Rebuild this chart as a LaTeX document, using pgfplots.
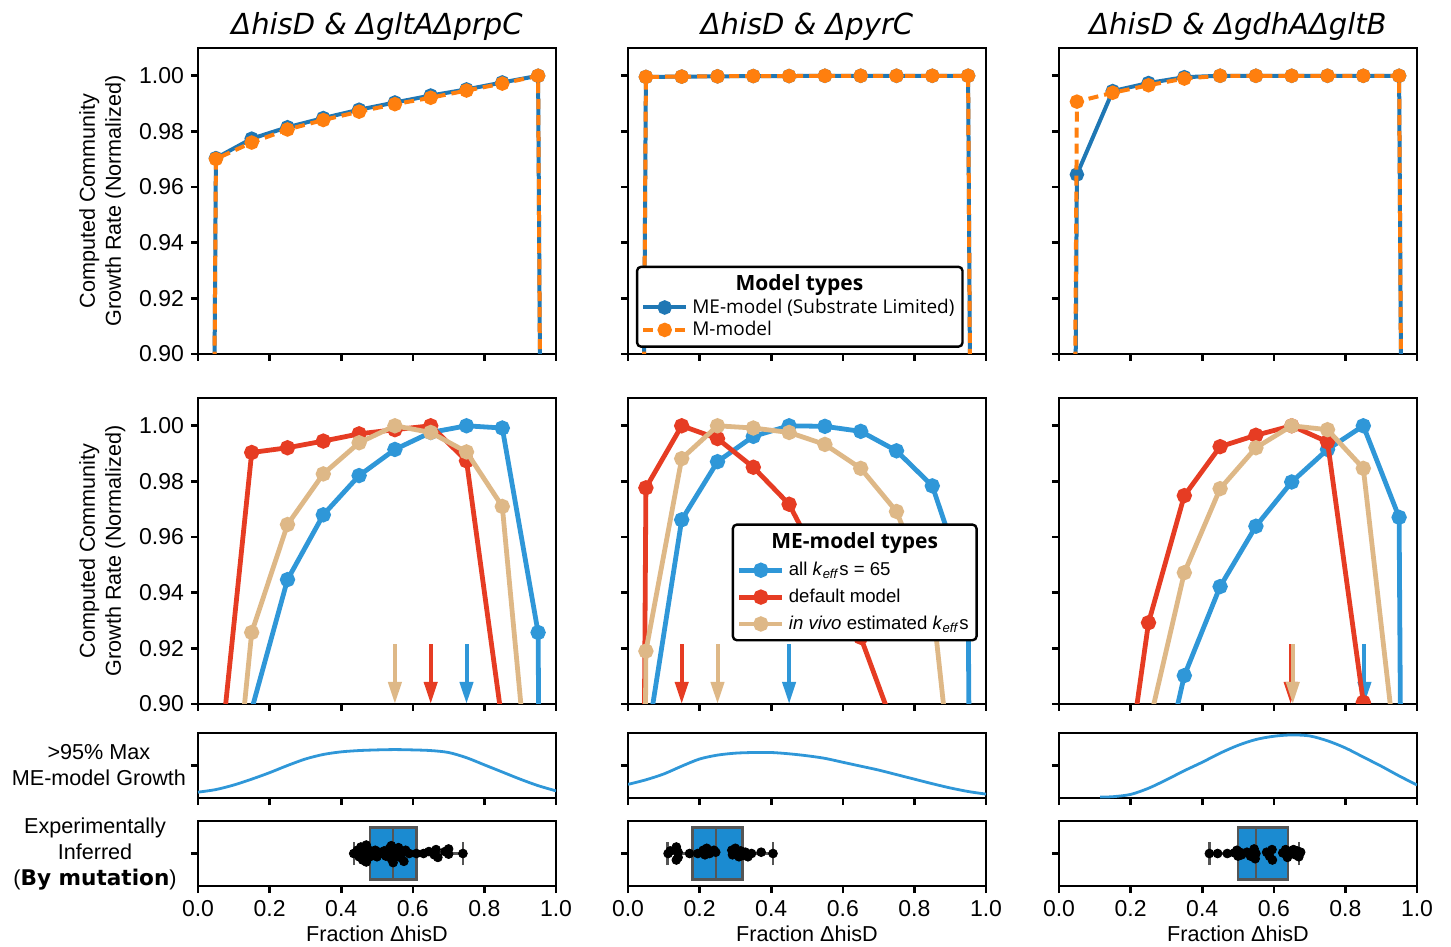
\documentclass[border=0pt]{standalone}
\usepackage{fontspec}
\setmainfont{Liberation Sans}
\newfontfamily\titlefont{DejaVu Sans}
\newfontfamily\legfont{Open Sans}
\usepackage{pgfplots}
\pgfplotsset{compat=1.18}
\usepgfplotslibrary{statistics}
\usetikzlibrary{arrows.meta}

\definecolor{topblue}{HTML}{1F77B4}
\definecolor{toporange}{HTML}{FF7F0E}
\definecolor{meblue}{HTML}{2F97D8}
\definecolor{mered}{HTML}{E63C23}
\definecolor{metan}{HTML}{DEB887}
\definecolor{boxblue}{HTML}{1B8BD1}
\definecolor{boxgray}{HTML}{555555}

\pgfplotsset{
  base/.style={scale only axis, width=179pt, xmin=0, xmax=1,
    axis line style={line width=1.4pt},
    major tick style={line width=1.3pt, black},
    major tick length=3.5pt, tick align=outside,
    xtick pos=bottom, ytick pos=left,
    xtick={0,0.2,0.4,0.6,0.8,1}, xticklabels={},
    clip marker paths=true,
    /pgf/number format/assume math mode=true,
    tick label style={font=\fontsize{11.5}{13}\selectfont},
    label style={font=\fontsize{10.8}{13}\selectfont, align=center},
    title style={font=\titlefont\itshape\fontsize{14.5}{16}\selectfont, yshift=-6pt},
    legend image code/.code={\draw[mark repeat=2,mark phase=2,##1] plot coordinates {(0cm,0cm) (0.38cm,0cm) (0.76cm,0cm)};}},
  grow/.style={base, height=153pt, ymin=0.9, ymax=1.01,
    ytick={0.9,0.92,0.94,0.96,0.98,1},
    yticklabel style={/pgf/number format/.cd, fixed, fixed zerofill, precision=2}},
  growlab/.style={grow, ylabel={Computed Community\\Growth Rate (Normalized)}},
  nolab/.style={yticklabels={}},
  dens/.style={base, height=32.5pt, ymin=0, ymax=1, ytick={0.5}, yticklabels={}},
  swarm/.style={base, height=32.5pt, ymin=-0.5, ymax=0.5, ytick={0}, yticklabels={},
    boxplot/draw direction=x,
    xticklabels={0.0,0.2,0.4,0.6,0.8,1.0}, xlabel={Fraction ΔhisD},
    xlabel style={yshift=2pt}},
  me/.style={topblue, line width=2pt, mark=*, mark size=2.6pt},
  mm/.style={toporange, line width=2pt, dash pattern=on 5pt off 3pt, mark=*, mark size=2.6pt, mark options={solid}},
  kb/.style={meblue, line width=2.4pt, mark=*, mark size=2.6pt},
  kr/.style={mered, line width=2.4pt, mark=*, mark size=2.6pt},
  kt/.style={metan, line width=2.4pt, mark=*, mark size=2.6pt},
  kde/.style={meblue, line width=1.4pt, smooth},
  bx/.style={draw=boxgray, fill=boxblue, line width=1.2pt},
  dots/.style={only marks, mark=*, mark size=2.2pt, black},
}
\newcommand{\arr}[2]{\addplot[forget plot, #1, line width=2pt, -{Triangle[width=6.5pt,length=11pt]}] coordinates {(#2,0.9215) (#2,0.9)};}

\newlength\legA
\newlength\legB
\begin{document}%
\settowidth\legA{\legfont\fontsize{9.5}{11}\selectfont ME-model (Substrate Limited)}%
\settowidth\legB{\fontsize{9.3}{11}\selectfont \textit{in vivo} estimated \textit{k}\textsubscript{\textit{eff}}s}%
\begin{tikzpicture}

% ---- row 1: M vs ME model
\begin{axis}[growlab, at={(99pt,-24pt)}, anchor=north west, title={ΔhisD \& ΔgltAΔprpC}]
\addplot[me] coordinates {(0,0) (0.05,0.9704) (0.15,0.9774) (0.25,0.9815) (0.35,0.9848) (0.45,0.9878) (0.55,0.9904) (0.65,0.9929) (0.75,0.9951) (0.85,0.9976) (0.95,1.0) (1,0)};
\addplot[mm] coordinates {(0,0) (0.05,0.9701) (0.15,0.9760) (0.25,0.9807) (0.35,0.9841) (0.45,0.9871) (0.55,0.9898) (0.65,0.9921) (0.75,0.9947) (0.85,0.9972) (0.95,1.0) (1,0)};
\end{axis}

\begin{axis}[grow, nolab, at={(314pt,-24pt)}, anchor=north west, title={ΔhisD \& ΔpyrC},
  legend style={at={(0.022,0.02)}, anchor=south west, draw=black, line width=1.2pt, rounded corners=2pt,
    font=\legfont\fontsize{9.5}{11}\selectfont, row sep=-1.5pt, inner sep=2pt},
  legend cell align=left]
\addlegendimage{empty legend}
\addlegendentry{\makebox[\legA][c]{\hspace*{-24pt}\fontsize{10.5}{12}\selectfont\bfseries Model types}}
\addplot[me] coordinates {(0,0) (0.05,0.9996) (0.15,0.9997) (0.25,0.9998) (0.35,0.9999) (0.45,0.9999) (0.55,1.0) (0.65,1.0) (0.75,1.0) (0.85,1.0) (0.95,1.0) (1,0)};
\addlegendentry{ME-model (Substrate Limited)}
\addplot[mm] coordinates {(0,0) (0.05,0.9996) (0.15,0.9997) (0.25,0.9998) (0.35,0.9999) (0.45,0.9999) (0.55,1.0) (0.65,1.0) (0.75,1.0) (0.85,1.0) (0.95,1.0) (1,0)};
\addlegendentry{M-model}
\end{axis}

\begin{axis}[grow, nolab, at={(529.5pt,-24pt)}, anchor=north west, title={ΔhisD \& ΔgdhAΔgltB}]
\addplot[me] coordinates {(0,0) (0.05,0.9645) (0.15,0.9945) (0.25,0.9974) (0.35,0.9995) (0.45,1.0) (0.55,1.0) (0.65,1.0) (0.75,1.0) (0.85,1.0) (0.95,1.0) (1,0)};
\addplot[mm] coordinates {(0,0) (0.05,0.9907) (0.15,0.9939) (0.25,0.9966) (0.35,0.9990) (0.45,1.0) (0.55,1.0) (0.65,1.0) (0.75,1.0) (0.85,1.0) (0.95,1.0) (1,0)};
\end{axis}

% ---- row 2: ME-model types
\begin{axis}[growlab, at={(99pt,-199pt)}, anchor=north west]
\arr{metan}{0.55}
\arr{mered}{0.65}
\arr{meblue}{0.75}
\addplot[kb] coordinates {(0,0) (0.05,0.80) (0.15,0.898) (0.25,0.9447) (0.35,0.968) (0.45,0.9821) (0.55,0.9915) (0.65,0.9976) (0.75,1.0) (0.85,0.9992) (0.95,0.9257) (1,0)};
\addplot[kr] coordinates {(0,0) (0.05,0.866) (0.15,0.9904) (0.25,0.9921) (0.35,0.9945) (0.45,0.9971) (0.55,0.9986) (0.65,1.0) (0.75,0.9874) (0.85,0.893) (0.95,0.80) (1,0)};
\addplot[kt] coordinates {(0,0) (0.05,0.797) (0.15,0.9257) (0.25,0.9645) (0.35,0.9827) (0.45,0.9939) (0.55,1.0) (0.65,0.9976) (0.75,0.9906) (0.85,0.971) (0.95,0.834) (1,0)};
\end{axis}

\begin{axis}[grow, nolab, at={(314pt,-199pt)}, anchor=north west,
  legend style={at={(0.977,0.59)}, anchor=north east, draw=black, line width=1.2pt, rounded corners=2pt,
    font=\fontsize{9.3}{11}\selectfont, row sep=1.2pt, inner sep=2pt},
  legend cell align=left]
\arr{mered}{0.15}
\arr{metan}{0.25}
\arr{meblue}{0.45}
\addlegendimage{empty legend}
\addlegendentry{\makebox[\legB][c]{\hspace*{-24pt}\legfont\fontsize{10.5}{12}\selectfont\bfseries ME-model types}}
\addplot[kb] coordinates {(0,0) (0.05,0.884) (0.15,0.9662) (0.25,0.9871) (0.35,0.9962) (0.45,1.0) (0.55,0.9998) (0.65,0.998) (0.75,0.991) (0.85,0.9784) (0.95,0.94) (1,0)};
\addlegendentry{all \textit{k}\textsubscript{\textit{eff}}s = 65}
\addplot[kr] coordinates {(0,0) (0.05,0.9777) (0.15,1.0) (0.25,0.9954) (0.35,0.9851) (0.45,0.9718) (0.55,0.947) (0.65,0.924) (0.75,0.889) (0.85,0.85) (0.95,0.80) (1,0)};
\addlegendentry{default model}
\addplot[kt] coordinates {(0,0) (0.05,0.919) (0.15,0.9882) (0.25,1.0) (0.35,0.9992) (0.45,0.9976) (0.55,0.9933) (0.65,0.9847) (0.75,0.9692) (0.85,0.937) (0.95,0.818) (1,0)};
\addlegendentry{\textit{in vivo} estimated \textit{k}\textsubscript{\textit{eff}}s}
\end{axis}

\begin{axis}[grow, nolab, at={(529.5pt,-199pt)}, anchor=north west]
\arr{meblue}{0.853}
\arr{mered}{0.647}
\arr{metan}{0.653}
\addplot[kb] coordinates {(0,0) (0.05,0.70) (0.15,0.78) (0.25,0.8535) (0.35,0.9102) (0.45,0.9422) (0.55,0.9639) (0.65,0.9798) (0.75,0.9915) (0.85,1.0) (0.95,0.9671) (1,0)};
\addplot[kr] coordinates {(0,0) (0.05,0.75) (0.15,0.838) (0.25,0.9292) (0.35,0.9749) (0.45,0.9925) (0.55,0.9966) (0.65,1.0) (0.75,0.9942) (0.85,0.9006) (0.95,0.80) (1,0)};
\addplot[kt] coordinates {(0,0) (0.05,0.72) (0.15,0.81) (0.25,0.8917) (0.35,0.9472) (0.45,0.9774) (0.55,0.9921) (0.65,1.0) (0.75,0.9986) (0.85,0.9847) (0.95,0.872) (1,0)};
\end{axis}

% ---- row 3: >95% max growth density
\begin{axis}[dens, at={(99pt,-366.5pt)}, anchor=north west,
  ylabel={>95\% Max\\ME-model Growth},
  ylabel style={rotate=-90, anchor=east, at={(axis description cs:-0.014,0.5)}}]
\addplot[kde] coordinates {(0,0.09) (0.05,0.13) (0.1,0.2) (0.15,0.29) (0.2,0.39) (0.25,0.5) (0.3,0.6) (0.35,0.67) (0.4,0.71) (0.45,0.73) (0.5,0.74) (0.55,0.745) (0.6,0.74) (0.65,0.73) (0.7,0.70) (0.75,0.62) (0.8,0.51) (0.85,0.40) (0.9,0.29) (0.95,0.19) (1.0,0.11)};
\end{axis}
\begin{axis}[dens, at={(314pt,-366.5pt)}, anchor=north west]
\addplot[kde] coordinates {(0,0.21) (0.05,0.28) (0.1,0.37) (0.15,0.49) (0.2,0.6) (0.25,0.66) (0.3,0.69) (0.35,0.70) (0.4,0.70) (0.45,0.68) (0.5,0.65) (0.55,0.61) (0.6,0.55) (0.65,0.49) (0.7,0.43) (0.75,0.36) (0.8,0.29) (0.85,0.22) (0.9,0.155) (0.95,0.1) (1.0,0.06)};
\end{axis}
\begin{axis}[dens, at={(529.5pt,-366.5pt)}, anchor=north west]
\addplot[kde] coordinates {(0.115,0.015) (0.15,0.02) (0.2,0.055) (0.25,0.15) (0.3,0.28) (0.35,0.42) (0.4,0.55) (0.45,0.69) (0.5,0.81) (0.55,0.9) (0.6,0.95) (0.65,0.97) (0.7,0.955) (0.75,0.88) (0.8,0.77) (0.85,0.63) (0.9,0.49) (0.95,0.34) (1.0,0.2)};
\end{axis}

% ---- row 4: experimentally inferred
\begin{axis}[swarm, at={(99pt,-410.5pt)}, anchor=north west,
  ylabel={Experimentally\\Inferred\\({\titlefont\bfseries By mutation})},
  ylabel style={rotate=-90, anchor=east, at={(axis description cs:-0.04,0.5)}}]
\addplot[bx, boxplot prepared={lower whisker=0.435, lower quartile=0.48, median=0.545, upper quartile=0.61, upper whisker=0.74, draw position=0, box extend=0.8, whisker extend=0.36}] coordinates {};
\addplot[dots] coordinates {(0.435,0) (0.445,0.05) (0.45,-0.05) (0.455,0.1) (0.46,-0.1) (0.465,0) (0.47,0.13) (0.47,-0.13) (0.475,0.06) (0.48,-0.05) (0.485,0.02) (0.49,-0.02) (0.495,0.05) (0.5,-0.05) (0.505,0.02) (0.51,0) (0.52,0.04) (0.525,-0.04) (0.53,0.0) (0.535,0.08) (0.54,-0.08) (0.54,0.12) (0.545,-0.14) (0.55,0.04) (0.555,-0.04) (0.56,0.09) (0.565,-0.06) (0.57,0.01) (0.575,-0.12) (0.58,0.05) (0.59,0) (0.61,0) (0.63,0) (0.645,0.03) (0.66,-0.02) (0.665,0.06) (0.67,-0.06) (0.69,0.03) (0.70,0.07) (0.70,-0.01) (0.74,0)};
\end{axis}
\begin{axis}[swarm, at={(314pt,-410.5pt)}, anchor=north west]
\addplot[bx, boxplot prepared={lower whisker=0.11, lower quartile=0.18, median=0.245, upper quartile=0.32, upper whisker=0.405, draw position=0, box extend=0.8, whisker extend=0.36}] coordinates {};
\addplot[dots] coordinates {(0.112,0) (0.118,0.04) (0.135,0.1) (0.135,-0.1) (0.14,0.02) (0.14,-0.06) (0.172,0) (0.195,0) (0.21,0.05) (0.215,-0.02) (0.22,0.08) (0.228,0) (0.24,0.05) (0.245,0.02) (0.29,0.05) (0.292,-0.02) (0.30,0.08) (0.305,0) (0.31,-0.05) (0.315,0.04) (0.32,-0.03) (0.328,0.02) (0.335,-0.05) (0.345,0) (0.372,0.02) (0.405,0)};
\end{axis}
\begin{axis}[swarm, at={(529.5pt,-410.5pt)}, anchor=north west]
\addplot[bx, boxplot prepared={lower whisker=0.42, lower quartile=0.50, median=0.55, upper quartile=0.64, upper whisker=0.67, draw position=0, box extend=0.8, whisker extend=0.36}] coordinates {};
\addplot[dots] coordinates {(0.42,0) (0.443,0) (0.47,0) (0.49,0.01) (0.497,0.05) (0.50,-0.04) (0.505,0.02) (0.51,-0.02) (0.525,0.02) (0.535,-0.04) (0.545,0.07) (0.548,-0.08) (0.55,0.0) (0.58,0.02) (0.588,-0.04) (0.595,0.06) (0.596,-0.1) (0.625,0.01) (0.633,0.06) (0.638,-0.06) (0.645,0.03) (0.655,0.06) (0.66,-0.02) (0.665,0.04) (0.67,-0.05) (0.675,0.02)};
\end{axis}
\pgfresetboundingbox
\path[use as bounding box] (0pt,0pt) rectangle (725.5pt,-473.5pt);
\end{tikzpicture}%
\end{document}
